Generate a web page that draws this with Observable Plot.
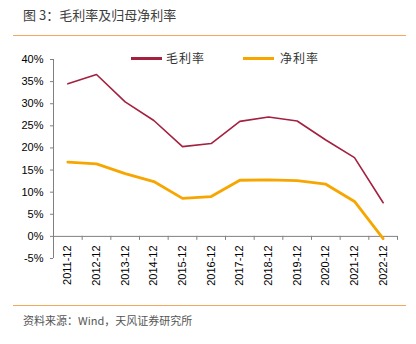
<!DOCTYPE html>
<html><head><meta charset="utf-8">
<script src="https://cdn.jsdelivr.net/npm/d3@7"></script>
<script src="https://cdn.jsdelivr.net/npm/@observablehq/plot@0.6"></script>
<style>
body{margin:0;width:416px;height:344px;background:#fff;font-family:"Noto Sans CJK SC",sans-serif;position:relative;overflow:hidden}
#title{position:absolute;left:13px;top:0;width:393px;height:36px;border-bottom:1.5px solid #f5a75c;box-sizing:border-box}
#title span{position:absolute;left:10px;top:6px;font-size:13px;line-height:18px;color:#404040}
#chart{position:absolute;left:0;top:38px}
#legend{position:absolute;top:49px;left:0;width:416px;height:18px;font-size:12px;color:#333}
.sw{position:absolute;top:8px;height:2.5px}
.lt{position:absolute;top:0;line-height:18px;letter-spacing:1px}
#foot{position:absolute;left:13px;top:305px;width:393px;border-top:1.5px solid #f5a75c}
#caption{position:absolute;left:23px;top:312px;font-size:11px;line-height:16px;color:#555}
</style></head>
<body>
<div id="title"><span>图 3：毛利率及归母净利率</span></div>
<div id="chart"></div>
<div id="legend"></div>
<div id="foot"></div>
<div id="caption">资料来源：Wind，天风证券研究所</div>
<script>
const categories = ["2011-12","2012-12","2013-12","2014-12","2015-12","2016-12","2017-12","2018-12","2019-12","2020-12","2021-12","2022-12"];
const grossMargin = [34.5, 36.6, 30.4, 26.2, 20.3, 21.0, 26.0, 27.0, 26.1, 21.8, 17.8, 7.6];
const netMargin = [16.8, 16.4, 14.2, 12.4, 8.6, 9.0, 12.7, 12.8, 12.6, 11.8, 7.9, -0.5];
const seriesNames = ["毛利率", "净利率"];
const seriesColors = ["#a3213f", "#f7a600"];
const yTicks = [-5, 0, 5, 10, 15, 20, 25, 30, 35, 40];

const gross = categories.map((c, i) => ({i, c, v: grossMargin[i]}));
const net = categories.map((c, i) => ({i, c, v: netMargin[i]}));
const boundaries = d3.range(categories.length + 1).map(k => k - 0.5);

const chart = Plot.plot({
  width: 416, height: 262,
  marginTop: 21, marginBottom: 42, marginLeft: 53, marginRight: 19,
  x: {domain: [-0.5, categories.length - 0.5], axis: null},
  y: {domain: [-5, 40], axis: null},
  style: {fontFamily: "'Liberation Sans', Arial, sans-serif", fontSize: "11px", color: "#000", background: "transparent"},
  marks: [
    Plot.axisY(yTicks, {tickFormat: d => d + "%", tickSize: 3, tickPadding: 7, stroke: "#808080", fill: "#000", fontSize: 11, label: null}),
    Plot.ruleX([-0.5], {x: d => d, stroke: "#808080"}),
    Plot.ruleY([0], {y: d => d, stroke: "#808080"}),
    Plot.ruleX(boundaries, {x: d => d, y1: () => 0, y2: () => 0, insetBottom: -4, stroke: "#808080"}),
    Plot.line(gross, {x: "i", y: "v", stroke: seriesColors[0], strokeWidth: 1.6}),
    Plot.line(net, {x: "i", y: "v", stroke: seriesColors[1], strokeWidth: 2.8}),
    Plot.text(gross, {x: "i", y: () => 0, text: "c", rotate: -90, textAnchor: "end", dy: 9, fill: "#000", fontSize: 11})
  ]
});
document.getElementById("chart").appendChild(chart);

const legend = document.getElementById("legend");
const legendPos = [[131, 166], [243, 280]];
seriesNames.forEach((n, k) => {
  const sw = document.createElement("div");
  sw.className = "sw";
  sw.style.left = legendPos[k][0] + "px";
  sw.style.width = "31px";
  sw.style.background = seriesColors[k];
  legend.appendChild(sw);
  const t = document.createElement("div");
  t.className = "lt";
  t.style.left = legendPos[k][1] + "px";
  t.textContent = n;
  legend.appendChild(t);
});
</script>
</body></html>
